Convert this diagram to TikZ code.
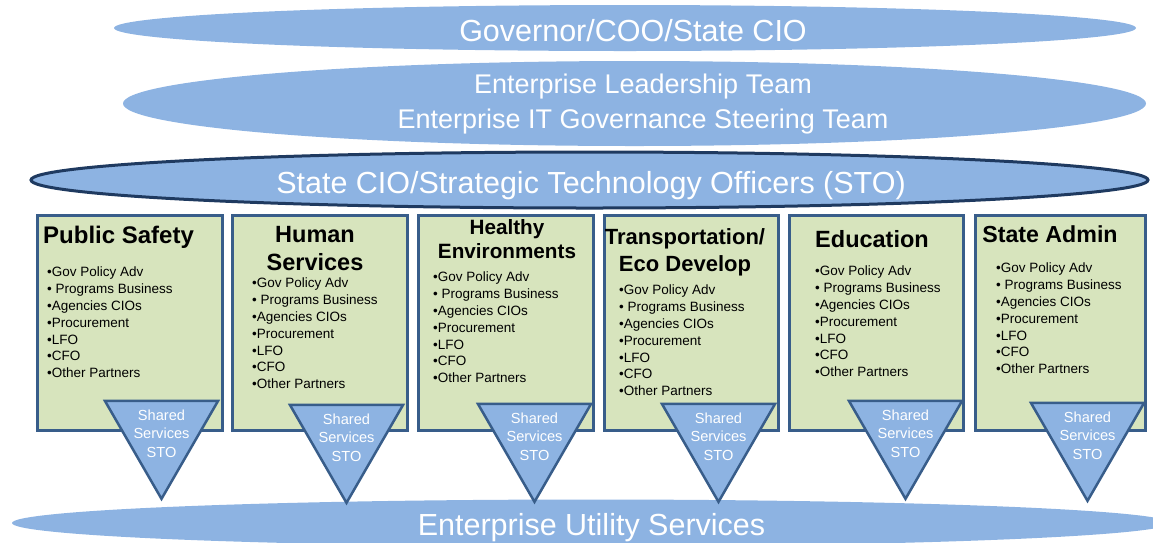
\documentclass[tikz,border=0pt]{standalone}
\usepackage{fontspec}
\setmainfont{Liberation Sans}
\usetikzlibrary{shapes.geometric}

\definecolor{bandblue}{HTML}{8DB3E2}
\definecolor{areagreen}{HTML}{D7E4BD}
\definecolor{areaedge}{HTML}{385D8A}
\definecolor{rimnavy}{HTML}{1F3A60}

\newcommand{\partnerlist}{•Gov Policy Adv\\• Programs Business\\•Agencies CIOs\\•Procurement\\•LFO\\•CFO\\•Other Partners}

\begin{document}
\begin{tikzpicture}[x=1pt,y=-1pt,
	band/.style={shape=ellipse,fill=bandblue,inner sep=0pt},
	bandtext/.style={text=white,inner sep=0pt,font=\fontsize{30.5}{35}\selectfont},
	area/.style={shape=rectangle,draw=areaedge,fill=areagreen,line width=2.5pt,anchor=north west,inner sep=0pt,minimum height=215pt},
	areatitle/.style={inner sep=0pt,align=center,font=\bfseries\fontsize{23.5}{28}\selectfont},
	partners/.style={anchor=north west,align=left,inner sep=0pt,font=\fontsize{13.5}{16.8}\selectfont},
	shared/.style={regular polygon,regular polygon sides=3,shape border rotate=180,minimum size=130.5pt,inner sep=0pt,draw=areaedge,fill=bandblue,line width=2.5pt,
		label={[text=white,align=center,inner sep=0pt,font=\fontsize{14.6}{18.7}\selectfont]center:{Shared\\Services\\STO}}}]
	\clip (0,0) rectangle (1153,542);

	\node[band,minimum width=1022pt,minimum height=46pt] (gov) at (625,28) {};
	\node[band,minimum width=1023pt,minimum height=85pt] (elt) at (634.5,103.5) {};
	\node[band,draw=rimnavy,line width=3pt,minimum width=1117pt,minimum height=56pt] (sto) at (589.5,180) {};

	\node[area,minimum width=185pt] (ps) at (36,214) {};
	\node[area,minimum width=175pt] (hs) at (231,214) {};
	\node[area,minimum width=175pt] (he) at (417,214) {};
	\node[area,minimum width=174pt] (te) at (603,214) {};
	\node[area,minimum width=174pt] (ed) at (788,214) {};
	\node[area,minimum width=170pt] (sa) at (974,214) {};

	\node[band,minimum width=1158pt,minimum height=47pt] (eus) at (591,523) {};

	\node[shared] (psShared) at (161.5,433.6) {};
	\node[shared] (hsShared) at (346.5,437.6) {};
	\node[shared] (heShared) at (534.5,436.6) {};
	\node[shared] (teShared) at (718.5,436.6) {};
	\node[shared] (edShared) at (905.5,433.6) {};
	\node[shared] (saShared) at (1087.5,435.6) {};

	\node[areatitle,anchor=base west,font=\bfseries\fontsize{24}{28}\selectfont] (psTitle) at (43,243.6) {Public Safety};
	\node[areatitle,anchor=north] (hsTitle) at (315,226.3) {Human\\Services};
	\node[areatitle,anchor=north,font=\bfseries\fontsize{20.7}{23.5}\selectfont] (heTitle) at (507,219.3) {Healthy\\Environments};
	\node[areatitle,anchor=north,font=\bfseries\fontsize{22}{27}\selectfont] (teTitle) at (685,227.9) {Transportation/\\Eco Develop};
	\node[areatitle,anchor=base] (edTitle) at (872,247.4) {Education};
	\node[areatitle,anchor=base,font=\bfseries\fontsize{23.2}{28}\selectfont] (saTitle) at (1050,242.3) {State Admin};

	\node[partners] (psList) at (47,267) {\partnerlist};
	\node[partners] (hsList) at (252,278) {\partnerlist};
	\node[partners] (heList) at (433,272) {\partnerlist};
	\node[partners] (teList) at (619,285) {\partnerlist};
	\node[partners] (edList) at (815,266) {\partnerlist};
	\node[partners] (saList) at (996,263) {\partnerlist};

	\node[bandtext,anchor=base] (govText) at (633,41) {Governor/COO/State CIO};
	\node[bandtext,anchor=north,align=center,font=\fontsize{27}{35}\selectfont] (eltText) at (643,73.5) {Enterprise Leadership Team\\Enterprise IT Governance Steering Team};
	\node[bandtext,anchor=base] (stoText) at (591,193) {State CIO/Strategic Technology Officers (STO)};
	\node[bandtext,anchor=base] (eusText) at (591.5,535) {Enterprise Utility Services};
\end{tikzpicture}
\end{document}
